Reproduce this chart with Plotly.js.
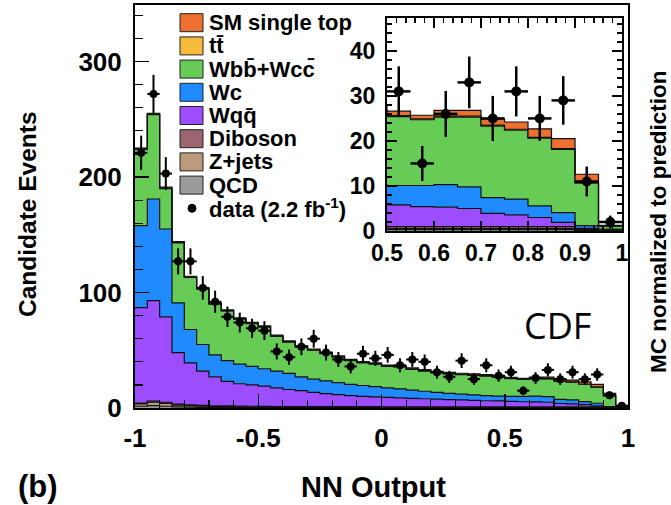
<!DOCTYPE html>
<html><head><meta charset="utf-8">
<script src="https://cdn.plot.ly/plotly-3.0.1.min.js"></script>
<style>html,body{margin:0;padding:0;background:#fff}#chart{width:671px;height:505px}</style>
</head><body><div id="chart"></div>
<script>
// NN output bin edges (40 bins of width 0.05)
const binEdges = [-1.00,-0.95,-0.90,-0.85,-0.80,-0.75,-0.70,-0.65,-0.60,-0.55,-0.50,-0.45,-0.40,-0.35,-0.30,-0.25,-0.20,-0.15,-0.10,-0.05,0.00,0.05,0.10,0.15,0.20,0.25,0.30,0.35,0.40,0.45,0.50,0.55,0.60,0.65,0.70,0.75,0.80,0.85,0.90,0.95,1.00];
// per-process predicted events per bin
const qcd      = [1.5,2.0,1.5,1.0,0.8,0.6,0.5,0.5,0.4,0.4,0.4,0.3,0.3,0.3,0.3,0.3,0.3,0.3,0.3,0.3,0.3,0.3,0.3,0.3,0.3,0.3,0.3,0.3,0.3,0.3,0.3,0.3,0.3,0.3,0.3,0.3,0.3,0.3,0.1,0.05];
const zjets    = [2.0,3.0,2.5,1.5,1.2,1.0,0.8,0.7,0.6,0.6,0.5,0.5,0.5,0.5,0.5,0.5,0.5,0.5,0.5,0.5,0.4,0.4,0.4,0.4,0.4,0.4,0.4,0.4,0.4,0.4,0.3,0.3,0.3,0.3,0.3,0.3,0.3,0.3,0.2,0.1];
const diboson  = [0.8,1.0,1.0,0.9,0.8,0.7,0.6,0.6,0.6,0.5,0.5,0.5,0.5,0.5,0.5,0.5,0.5,0.5,0.5,0.5,0.4,0.4,0.4,0.4,0.4,0.4,0.4,0.4,0.4,0.4,0.4,0.4,0.4,0.4,0.4,0.4,0.4,0.4,0.1,0.05];
const wqq      = [82.7,87,74,44.6,36.2,29.7,25.1,21.2,19.4,18.5,17.6,16.2,14.7,13.7,12.2,11.2,10.2,9.5,8.7,8.3,8.1,7.7,7.3,6.9,6.5,6.2,5.9,5.5,5.2,5.0,4.8,4.4,4.3,4.0,2.9,2.6,2.0,0.9,0.2,0.05];
const wc       = [71,88,76,43,29,23,19,18,17,16,15,14.5,14,12,11.5,11,10.5,9.7,9.5,8.9,8.3,7.7,7.1,6.5,5.9,5.4,5.0,4.7,4.4,4.2,4.3,4.7,5.0,4.8,3.5,3.5,2.6,2.2,0.6,0.15];
const wbb      = [66,73,35,52,45,48,44,43,39,37,36,30,27,26,25,23.5,22,20.5,19.5,19.5,18.5,19,18,17.5,17,16.8,16.8,16.9,16.9,16.2,15.3,14.6,15.0,15.5,15.9,15.3,15.0,14.0,9.4,0.6];
const ttbar    = [0.4,0.4,0.4,0.4,0.4,0.4,0.4,0.4,0.4,0.4,0.4,0.4,0.4,0.4,0.4,0.4,0.4,0.4,0.4,0.4,0.4,0.4,0.4,0.4,0.4,0.4,0.4,0.4,0.4,0.4,0.2,0.2,0.2,0.2,0.2,0.2,0.2,0.2,0.2,0.05];
const singleTop= [0.6,0.8,0.8,0.8,0.7,0.7,0.7,0.7,0.7,0.7,0.7,0.7,0.7,0.7,0.7,0.7,0.7,0.7,0.7,0.7,0.7,0.8,0.8,0.8,0.8,0.9,0.9,1.0,1.0,1.0,1.0,0.8,1.3,1.3,1.4,1.6,1.9,2.2,1.8,0.2];
// observed data
const dataCounts = [221,272,203,127,127,104,92,79,74,69,67,49,44,53,60,48,42,36,47,43,46,37,42,40,31,27,41,25,37,28,31,15,26,33,25,31,25,29,11,2];

const processNames  = ['QCD','Z+jets','Diboson','Wq\u0071\u0304','Wc','Wb\u0062\u0304+Wc\u0063\u0304','t\u0074\u0304','SM single top'];
const processValues = [qcd, zjets, diboson, wqq, wc, wbb, ttbar, singleTop];
const processColors = ['#9a9a9a','#bb9a7e','#9a6670','#9b4dff','#1f8bff','#66cc55','#f6bb3a','#ee7030'];
const legendOrder   = [7,6,5,4,3,2,1,0];
const dataLabel = 'data (2.2 fb<sup>-1</sup>)';

// plot geometry (pixels)
const W = 671, H = 505, L = 135, R = 43, T = 5, B = 97;
const pw = W - L - R, ph = H - T - B;
const px = v => (v - L) / pw;
const py = v => (H - B - v) / ph;

const centers = binEdges.slice(0, -1).map((e, i) => (e + binEdges[i + 1]) / 2);
const stepY = arr => arr.concat([arr[arr.length - 1]]);

const traces = [];
['main', 'inset'].forEach((grp, gi) => {
  processValues.forEach((vals, k) => {
    traces.push({
      type: 'scatter', mode: 'lines', x: binEdges, y: stepY(vals),
      stackgroup: grp, line: {shape: 'hv', color: '#111', width: 1.2},
      fillcolor: processColors[k], showlegend: false, hoverinfo: 'skip',
      xaxis: gi ? 'x2' : 'x', yaxis: gi ? 'y2' : 'y'
    });
  });
  traces.push({
    type: 'scatter', mode: 'markers', x: centers, y: dataCounts,
    marker: {color: '#000', size: gi ? 10 : 8},
    error_y: {type: 'data', array: dataCounts.map(Math.sqrt), thickness: gi ? 2.5 : 2, width: 0, color: '#000'},
    error_x: {type: 'constant', value: 0.025, thickness: gi ? 2.5 : 2, width: 0, color: '#000'},
    showlegend: false, hoverinfo: 'skip',
    xaxis: gi ? 'x2' : 'x', yaxis: gi ? 'y2' : 'y'
  });
});

const bold = (s) => ({family: 'Liberation Sans, Arial, sans-serif', size: s, color: '#000', weight: 'bold'});

const shapes = [];
const annotations = [];
const rowY0 = 22.7, rowStep = 23.2;
legendOrder.forEach((k, r) => {
  const cy = rowY0 + r * rowStep;
  shapes.push({type: 'rect', xref: 'paper', yref: 'paper', x0: px(180), x1: px(203), y0: py(cy + 9), y1: py(cy - 9),
    fillcolor: processColors[k], line: {color: '#222', width: 1}});
  annotations.push({xref: 'paper', yref: 'paper', x: px(207), y: py(cy), xanchor: 'left', yanchor: 'middle',
    text: processNames[k], showarrow: false, font: bold(22)});
});
{
  const cy = rowY0 + 8 * rowStep;
  shapes.push({type: 'circle', xref: 'paper', yref: 'paper', x0: px(188), x1: px(196), y0: py(cy + 4), y1: py(cy - 4),
    fillcolor: '#000', line: {color: '#000', width: 1}});
  annotations.push({xref: 'paper', yref: 'paper', x: px(207), y: py(cy), xanchor: 'left', yanchor: 'middle',
    text: dataLabel, showarrow: false, font: bold(22)});
}
annotations.push({xref: 'paper', yref: 'paper', x: px(27), y: py(214), xanchor: 'center', yanchor: 'middle',
  text: 'Candidate Events', textangle: -90, showarrow: false, font: bold(24.5)});
annotations.push({xref: 'paper', yref: 'paper', x: px(373), y: py(487), xanchor: 'center', yanchor: 'middle',
  text: 'NN Output', showarrow: false, font: bold(29)});
annotations.push({xref: 'paper', yref: 'paper', x: px(38), y: py(486), xanchor: 'center', yanchor: 'middle',
  text: '(b)', showarrow: false, font: bold(31)});
annotations.push({xref: 'paper', yref: 'paper', x: px(658), y: py(222), xanchor: 'center', yanchor: 'middle',
  text: 'MC normalized to prediction', textangle: -90, showarrow: false, font: bold(22.5)});
annotations.push({xref: 'paper', yref: 'paper', x: px(557), y: py(325), xanchor: 'center', yanchor: 'middle',
  text: 'CDF', showarrow: false, font: {family: 'Open Sans, sans-serif', size: 36, color: '#000'}});

const axisBase = {showgrid: false, zeroline: false, showline: true, linecolor: '#000', ticks: 'inside', tickcolor: '#000'};

const layout = {
  width: W, height: H, margin: {l: L, r: R, t: T, b: B},
  paper_bgcolor: '#fff', plot_bgcolor: 'rgba(0,0,0,0)',
  showlegend: false,
  xaxis: Object.assign({}, axisBase, {
    domain: [0, 1], range: [-1, 1], linewidth: 2, mirror: true,
    tickvals: [-1, -0.5, 0, 0.5, 1], ticktext: ['-1', '-0.5', '0', '0.5', '1'],
    ticklen: 14, tickwidth: 1.5, tickfont: bold(26), ticklabelstandoff: 6,
    minor: {tick0: -1, dtick: 0.1, ticks: 'inside', ticklen: 8, tickcolor: '#000', tickwidth: 1.2}
  }),
  yaxis: Object.assign({}, axisBase, {
    domain: [0, 1], range: [0, 349], linewidth: 2, mirror: true,
    tickvals: [0, 100, 200, 300], ticklen: 14, tickwidth: 1.5, tickfont: bold(26), ticklabelstandoff: 6,
    minor: {tick0: 0, dtick: 20, ticks: 'inside', ticklen: 8, tickcolor: '#000', tickwidth: 1.2}
  }),
  xaxis2: Object.assign({}, axisBase, {
    anchor: 'y2', domain: [px(387), px(622)], range: [0.5, 1], linewidth: 2, mirror: 'ticks',
    tick0: 0.5, dtick: 0.1, ticklen: 10, tickwidth: 1.5, tickfont: bold(23), ticklabelstandoff: 0,
    minor: {tick0: 0.5, dtick: 0.02, ticks: 'inside', ticklen: 5, tickcolor: '#000'}
  }),
  yaxis2: Object.assign({}, axisBase, {
    anchor: 'x2', domain: [py(231), py(18)], range: [0, 47.3], linewidth: 2, mirror: 'ticks',
    tick0: 0, dtick: 10, ticklen: 10, tickwidth: 1.5, tickfont: bold(23), ticklabelstandoff: 5,
    minor: {tick0: 0, dtick: 2, ticks: 'inside', ticklen: 5, tickcolor: '#000'}
  }),
  shapes: shapes, annotations: annotations
};

Plotly.newPlot('chart', traces, layout, {displayModeBar: false, staticPlot: true});
</script></body></html>
